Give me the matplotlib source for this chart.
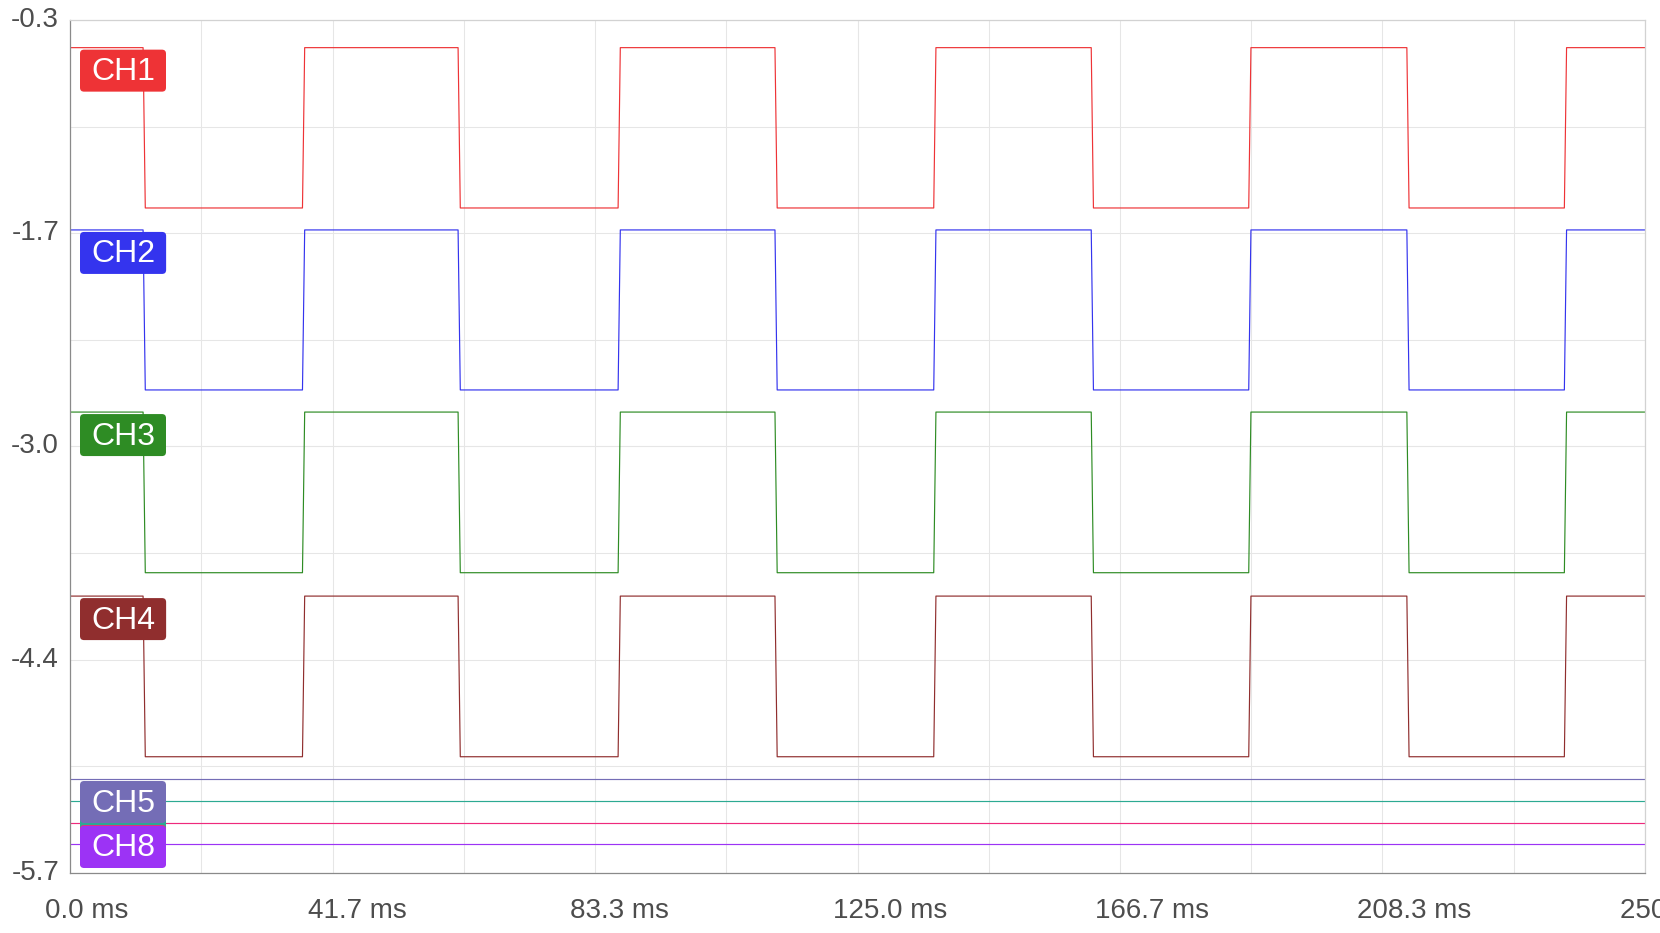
import numpy as np
import matplotlib
matplotlib.use("Agg")
import matplotlib.pyplot as plt
from matplotlib.patches import FancyBboxPatch
from matplotlib.transforms import IdentityTransform, ScaledTranslation

plt.rcParams['font.family'] = ['Liberation Sans', 'DejaVu Sans']

# ---------------- data ----------------
channels = ["CH1", "CH2", "CH3", "CH4", "CH5", "CH6", "CH7", "CH8"]
colors = ["#ee3336", "#3434ee", "#2e8c24", "#902e2e",
          "#746db6", "#2caa92", "#ee2a7c", "#9c33f5"]

# square-wave channels: high / low levels (V) and edge times (ms)
sq_high = [-0.475, -1.629, -2.782, -3.947]
sq_low = [-1.490, -2.642, -3.799, -4.964]
fall_ms = [11.6, 61.6, 111.9, 162.1, 212.2]
rise_ms = [36.9, 87.0, 137.1, 187.1, 237.2]
edge_ramp_ms = 0.35

# flat channels CH5..CH8
flat_levels = [-5.105, -5.246, -5.384, -5.519]

x_range = [0.0, 250.0]
y_range = [-5.7, -0.3]
xtick_vals = [0.0, 41.667, 83.333, 125.0, 166.667, 208.333, 250.0]
xtick_labels = ["0.0 ms", "41.7 ms", "83.3 ms", "125.0 ms", "166.7 ms", "208.3 ms", "250.0 ms"]
ytick_vals = [-0.3, -1.65, -3.0, -4.35, -5.7]
ytick_labels = ["-0.3", "-1.7", "-3.0", "-4.4", "-5.7"]

# badges whose label is hidden under another badge in the reference
hidden_label = ["CH6", "CH7"]

# ---------------- build series ----------------
edges = sorted([(t, 'fall') for t in fall_ms] + [(t, 'rise') for t in rise_ms])


def square_series(hi, lo):
    xs = [x_range[0]]
    ys = [hi]
    cur = hi
    for t, kind in edges:
        new = lo if kind == 'fall' else hi
        xs += [t, t + edge_ramp_ms]
        ys += [cur, new]
        cur = new
    xs.append(x_range[1])
    ys.append(cur)
    return np.array(xs), np.array(ys)


series = []
for hi, lo in zip(sq_high, sq_low):
    series.append(square_series(hi, lo))
for lv in flat_levels:
    series.append((np.array(x_range), np.array([lv, lv])))

# ---------------- figure ----------------
W, H, DPI = 1660, 933, 100
fig = plt.figure(figsize=(W / DPI, H / DPI), dpi=DPI)
fig.patch.set_facecolor('white')
L, T, R, B = 70, 20, 1645, 873
ax = fig.add_axes([L / W, (H - B) / H, (R - L) / W, (B - T) / H])
ax.set_xlim(*x_range)
ax.set_ylim(*y_range)

ax.set_xticks(xtick_vals)
ax.set_xticks([(a + b) / 2 for a, b in zip(xtick_vals[:-1], xtick_vals[1:])], minor=True)
ax.set_yticks(ytick_vals)
ax.set_yticks([(a + b) / 2 for a, b in zip(ytick_vals[:-1], ytick_vals[1:])], minor=True)
ax.set_xticklabels(xtick_labels)
ax.set_yticklabels(ytick_labels)
ax.grid(True, which='both', color='#e6e6e6', linewidth=0.75, zorder=0)
ax.set_axisbelow(True)
ax.axvline(125.0, color='#cccccc', linewidth=0.75, zorder=0.5)
ax.axhline(-3.0, color='#cccccc', linewidth=0.75, zorder=0.5)

ax.tick_params(which='both', length=0)
ax.tick_params(axis='x', pad=18.3, labelsize=20, labelcolor='#4d4d4d')
ax.tick_params(axis='y', pad=7.9, labelsize=20, labelcolor='#4d4d4d')
for lab in ax.get_xticklabels():
    lab.set_horizontalalignment('left')
    lab.set_transform(lab.get_transform() + ScaledTranslation(-25 / DPI, 0, fig.dpi_scale_trans))
for lab in ax.get_yticklabels():
    lab.set_verticalalignment('center_baseline')
    lab.set_transform(lab.get_transform() + ScaledTranslation(0, 3.0 / DPI, fig.dpi_scale_trans))

for s in ['left', 'bottom']:
    ax.spines[s].set_color('#8a8a8a')
    ax.spines[s].set_linewidth(0.9)
for s in ['top', 'right']:
    ax.spines[s].set_color('#d2d2d2')
    ax.spines[s].set_linewidth(0.9)

for (xs, ys), c in zip(series, colors):
    ax.plot(xs, ys, color=c, linewidth=0.85, zorder=2)

# ---------------- channel badges ----------------
fig.canvas.draw()
renderer = fig.canvas.get_renderer()
ax_left_disp, ax_bottom_disp = ax.transAxes.transform((0, 0))
badge_h = 42
pad_x = 11
order = [5, 6, 0, 1, 2, 3, 4, 7]  # CH6, CH7 lie underneath CH5 / CH8
for k, i in enumerate(order):
    xs, ys = series[i]
    y0 = ax.transData.transform((xs[0], ys[0]))[1]
    top = y0 - 2
    bottom = top - badge_h
    if bottom < ax_bottom_disp + 5:
        bottom = ax_bottom_disp + 5
    left = ax_left_disp + 10
    txt = fig.text(0, 0, channels[i], transform=IdentityTransform(), color='white',
                   fontsize=23, ha='center', va='center_baseline', zorder=11 + 2 * k)
    ext = txt.get_window_extent(renderer)
    bw = ext.width + 2 * pad_x
    txt.set_position((left + bw / 2, bottom + badge_h / 2 + 2))
    if channels[i] in hidden_label:
        txt.remove()
    patch = FancyBboxPatch((left, bottom), bw, badge_h,
                           boxstyle='round,pad=0,rounding_size=4',
                           transform=IdentityTransform(), facecolor=colors[i],
                           edgecolor='none', zorder=10 + 2 * k)
    fig.add_artist(patch)

fig.savefig('out.png', dpi=DPI)
